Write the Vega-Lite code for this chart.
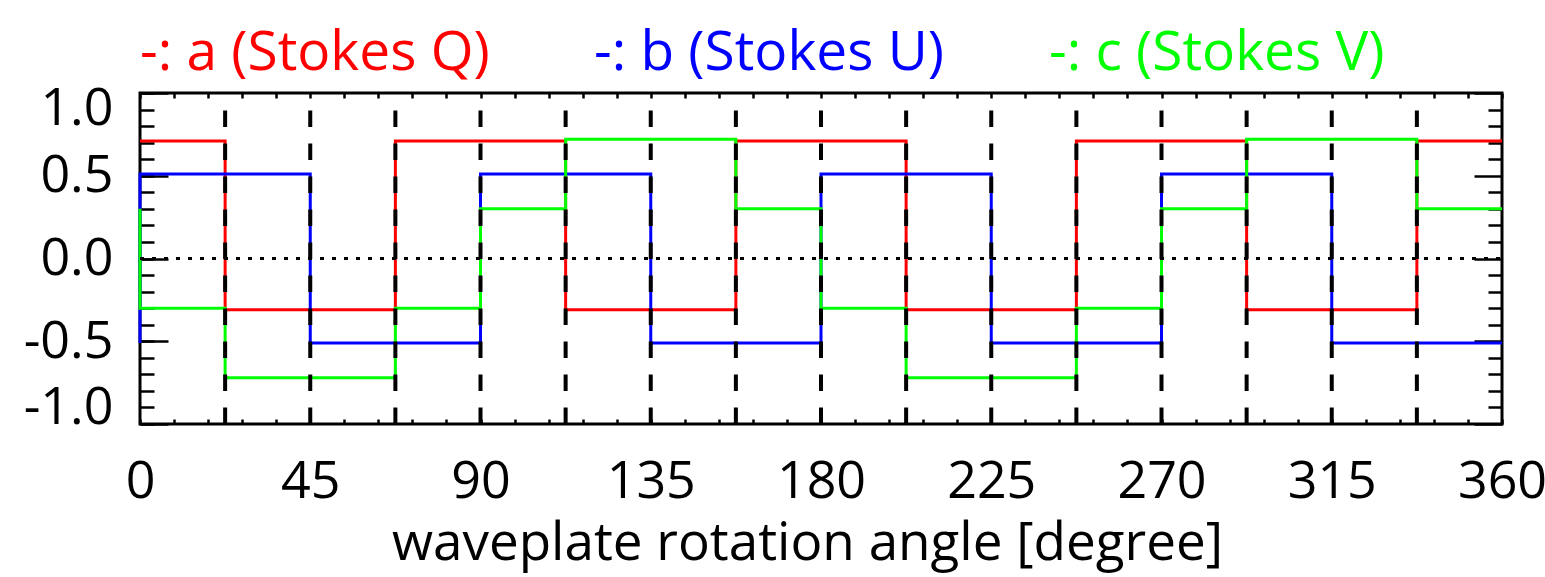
{
  "$schema": "https://vega.github.io/schema/vega-lite/v6.json",
  "width": 1362,
  "height": 331,
  "autosize": {"type": "none"},
  "padding": {"left": 140, "top": 93, "right": 43, "bottom": 153},
  "background": "white",
  "config": {
    "view": {"stroke": "black", "strokeWidth": 3},
    "font": "Open Sans",
    "axis": {
      "domain": false, "grid": false, "tickColor": "black", "tickWidth": 2.5,
      "labelColor": "black", "labelFont": "Open Sans", "labelFontSize": 52,
      "titleFont": "Open Sans", "titleFontSize": 53, "titleFontWeight": "normal", "titleColor": "black"
    }
  },
  "datasets": {
    "stokes": [
      {"series": "-: a (Stokes Q)", "i": 0, "angle": 0, "value": 0.71},
      {"series": "-: a (Stokes Q)", "i": 1, "angle": 22.5, "value": -0.31},
      {"series": "-: a (Stokes Q)", "i": 2, "angle": 67.5, "value": 0.71},
      {"series": "-: a (Stokes Q)", "i": 3, "angle": 112.5, "value": -0.31},
      {"series": "-: a (Stokes Q)", "i": 4, "angle": 157.5, "value": 0.71},
      {"series": "-: a (Stokes Q)", "i": 5, "angle": 202.5, "value": -0.31},
      {"series": "-: a (Stokes Q)", "i": 6, "angle": 247.5, "value": 0.71},
      {"series": "-: a (Stokes Q)", "i": 7, "angle": 292.5, "value": -0.31},
      {"series": "-: a (Stokes Q)", "i": 8, "angle": 337.5, "value": 0.71},
      {"series": "-: a (Stokes Q)", "i": 9, "angle": 360, "value": 0.71},
      {"series": "-: b (Stokes U)", "i": 0, "angle": 0, "value": -0.51},
      {"series": "-: b (Stokes U)", "i": 1, "angle": 0, "value": 0.51},
      {"series": "-: b (Stokes U)", "i": 2, "angle": 45, "value": -0.51},
      {"series": "-: b (Stokes U)", "i": 3, "angle": 90, "value": 0.51},
      {"series": "-: b (Stokes U)", "i": 4, "angle": 135, "value": -0.51},
      {"series": "-: b (Stokes U)", "i": 5, "angle": 180, "value": 0.51},
      {"series": "-: b (Stokes U)", "i": 6, "angle": 225, "value": -0.51},
      {"series": "-: b (Stokes U)", "i": 7, "angle": 270, "value": 0.51},
      {"series": "-: b (Stokes U)", "i": 8, "angle": 315, "value": -0.51},
      {"series": "-: b (Stokes U)", "i": 9, "angle": 360, "value": -0.51},
      {"series": "-: c (Stokes V)", "i": 0, "angle": 0, "value": 0.30},
      {"series": "-: c (Stokes V)", "i": 1, "angle": 0, "value": -0.30},
      {"series": "-: c (Stokes V)", "i": 2, "angle": 22.5, "value": -0.72},
      {"series": "-: c (Stokes V)", "i": 3, "angle": 67.5, "value": -0.30},
      {"series": "-: c (Stokes V)", "i": 4, "angle": 90, "value": 0.30},
      {"series": "-: c (Stokes V)", "i": 5, "angle": 112.5, "value": 0.72},
      {"series": "-: c (Stokes V)", "i": 6, "angle": 157.5, "value": 0.30},
      {"series": "-: c (Stokes V)", "i": 7, "angle": 180, "value": -0.30},
      {"series": "-: c (Stokes V)", "i": 8, "angle": 202.5, "value": -0.72},
      {"series": "-: c (Stokes V)", "i": 9, "angle": 247.5, "value": -0.30},
      {"series": "-: c (Stokes V)", "i": 10, "angle": 270, "value": 0.30},
      {"series": "-: c (Stokes V)", "i": 11, "angle": 292.5, "value": 0.72},
      {"series": "-: c (Stokes V)", "i": 12, "angle": 337.5, "value": 0.30},
      {"series": "-: c (Stokes V)", "i": 13, "angle": 360, "value": 0.30}
    ],
    "boundaries": [
      {"angle": 22.5}, {"angle": 45}, {"angle": 67.5}, {"angle": 90},
      {"angle": 112.5}, {"angle": 135}, {"angle": 157.5}, {"angle": 180},
      {"angle": 202.5}, {"angle": 225}, {"angle": 247.5}, {"angle": 270},
      {"angle": 292.5}, {"angle": 315}, {"angle": 337.5}
    ]
  },
  "resolve": {"axis": {"x": "independent", "y": "independent"}},
  "layer": [
    {
      "data": {"name": "stokes"},
      "mark": {"type": "line", "interpolate": "step-after", "strokeWidth": 3},
      "encoding": {
        "x": {
          "field": "angle", "type": "quantitative",
          "scale": {"domain": [0, 360], "nice": false, "zero": false},
          "axis": {
            "orient": "bottom",
            "values": [0, 9, 18, 27, 36, 45, 54, 63, 72, 81, 90, 99, 108, 117, 126, 135, 144, 153, 162, 171, 180, 189, 198, 207, 216, 225, 234, 243, 252, 261, 270, 279, 288, 297, 306, 315, 324, 333, 342, 351, 360],
            "tickSize": -5,
            "labelExpr": "datum.value % 45 == 0 ? datum.label : ''",
            "labelOverlap": false,
            "labelFlush": false,
            "labelPadding": 37,
            "titlePadding": 10,
            "titleX": 667,
            "title": "waveplate rotation angle [degree]"
          }
        },
        "y": {
          "field": "value", "type": "quantitative",
          "scale": {"domain": [-1, 1], "nice": false, "zero": false},
          "axis": {
            "orient": "left",
            "values": [-1, -0.5, 0, 0.5, 1],
            "tickSize": -28,
            "labelPadding": 55,
            "labelFlush": true,
            "labelFlushOffset": 10,
            "labelOverlap": false,
            "labelExpr": "(datum.value < 0 ? '-' : '') + format(abs(datum.value), '.1f')",
            "title": null
          }
        },
        "color": {
          "field": "series", "type": "nominal",
          "scale": {"domain": ["-: a (Stokes Q)", "-: b (Stokes U)", "-: c (Stokes V)"], "range": ["#ff0000", "#0000ff", "#00ff00"]},
          "legend": {
            "orient": "top", "direction": "horizontal", "title": null,
            "symbolSize": 0, "symbolStrokeWidth": 0, "symbolOpacity": 0,
            "labelOffset": -55, "labelFont": "Open Sans", "labelFontSize": 55,
            "labelLimit": 1000, "columnPadding": 104, "offset": 10,
            "encode": {"labels": {"update": {"fill": {"scale": "color", "field": "value"}}}}
          }
        },
        "order": {"field": "i", "type": "quantitative"}
      }
    },
    {
      "data": {"name": "boundaries"},
      "mark": {"type": "rule", "color": "black", "strokeWidth": 4, "strokeDash": [16.5, 16.5]},
      "encoding": {
        "x": {
          "field": "angle", "type": "quantitative",
          "axis": {
            "orient": "top",
            "values": [0, 9, 18, 27, 36, 45, 54, 63, 72, 81, 90, 99, 108, 117, 126, 135, 144, 153, 162, 171, 180, 189, 198, 207, 216, 225, 234, 243, 252, 261, 270, 279, 288, 297, 306, 315, 324, 333, 342, 351, 360],
            "tickSize": -5, "labels": false, "title": null
          }
        },
        "y": {
          "datum": -1, "type": "quantitative",
          "axis": {
            "orient": "left",
            "values": [-1, -0.9, -0.8, -0.7, -0.6, -0.5, -0.4, -0.3, -0.2, -0.1, 0, 0.1, 0.2, 0.3, 0.4, 0.5, 0.6, 0.7, 0.8, 0.9, 1],
            "tickSize": -14, "labels": false, "title": null
          }
        },
        "y2": {"datum": 1}
      }
    },
    {
      "data": {"values": [{}]},
      "mark": {"type": "rule", "color": "black", "strokeWidth": 3, "strokeDash": [4, 8]},
      "encoding": {
        "x": {"datum": 0, "type": "quantitative", "axis": null},
        "x2": {"datum": 360},
        "y": {
          "datum": 0, "type": "quantitative",
          "axis": {
            "orient": "right",
            "values": [-1, -0.9, -0.8, -0.7, -0.6, -0.5, -0.4, -0.3, -0.2, -0.1, 0, 0.1, 0.2, 0.3, 0.4, 0.5, 0.6, 0.7, 0.8, 0.9, 1],
            "tickSize": {"condition": {"test": "abs(datum.value) == 0.5 || abs(datum.value) == 1 || datum.value == 0", "value": -28}, "value": -14},
            "labels": false, "title": null
          }
        }
      }
    }
  ]
}
